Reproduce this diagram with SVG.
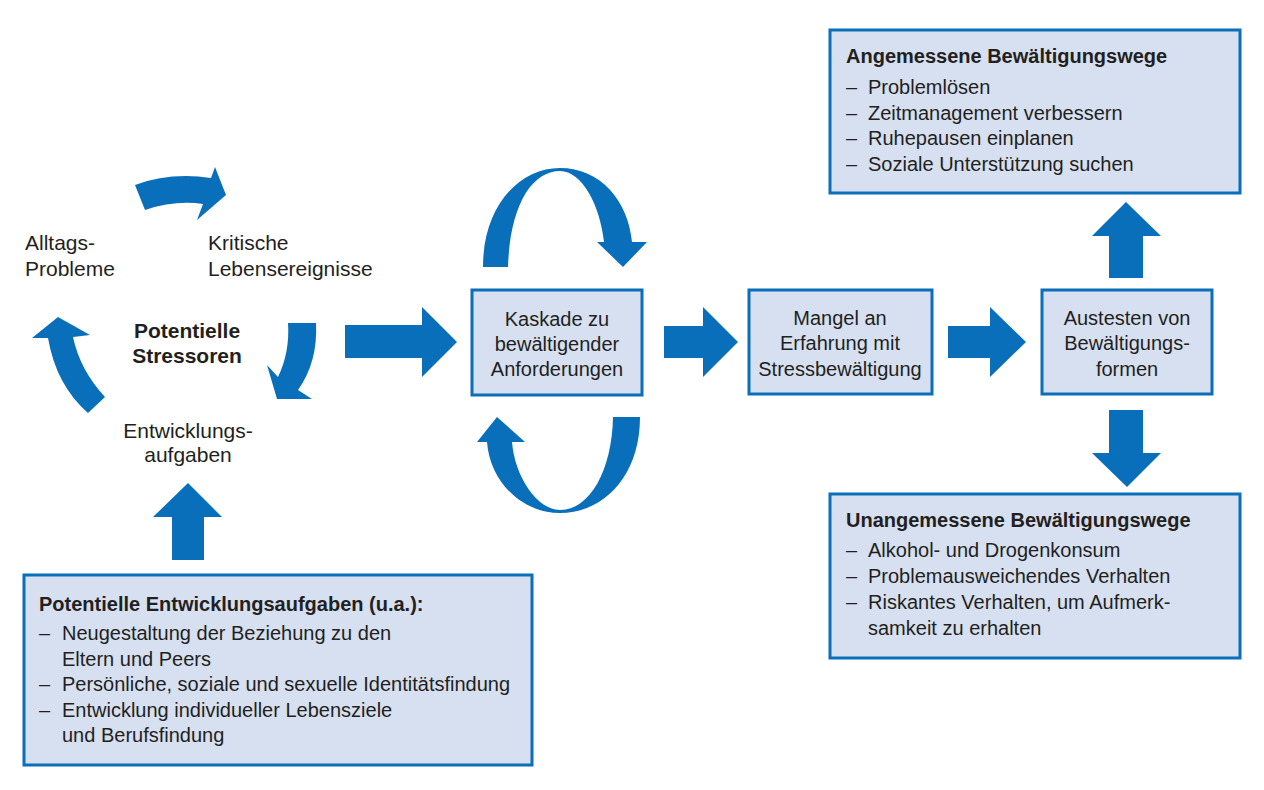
<svg xmlns="http://www.w3.org/2000/svg" width="1264" height="790" viewBox="0 0 1264 790">
<style>
.box{fill:#d6e0f1;stroke:#0a6fba;stroke-width:3}
.arr{fill:#0a6fba}
.t{font-family:"Liberation Sans",Arial,sans-serif;font-size:21px;fill:#231f20}
.b{font-family:"Liberation Sans",Arial,sans-serif;font-size:20px;fill:#231f20}
.bt{font-weight:bold}
.c{text-anchor:middle}
</style>
<rect width="1264" height="790" fill="#ffffff"/>
<g id="connectors">
<path class="arr" d="M135,185 Q170,172 211,178 L215,167 L226,195 L197,220 L203,204 Q175,200 145,210 Z"/>
<path class="arr" d="M288,323 L316,323 Q318,362 298,390 L312,399 L277,399 L267,365 L278,377 Q290,352 288,323 Z"/>
<path class="arr" d="M88,413 Q56,385 48,338 L32,338 L58,317 L90,335 L73,337 Q80,370 105,397 Z"/>
<path class="arr" d="M483,267 C483,205 520,168 560,168 C600,168 628,200 632,242 L647,242 L623,267 L597,242 L604,242 C600,205 582,171 560,171 C532,171 510,205 508,267 Z"/>
<path class="arr" d="M640,417 C640,478 602,513 560,513 C522,513 490,482 487,442 L477,442 L497,417 L525,442 L512,442 C515,478 538,510 560,510 C590,510 612,470 613,417 Z"/>
<path class="arr" d="M345,325 L422,325 L422,307 L457,342 L422,377 L422,358 L345,358 Z"/>
<path class="arr" d="M664,326 L703,326 L703,307 L738,342 L703,377 L703,358 L664,358 Z"/>
<path class="arr" d="M948,326 L990,326 L990,307 L1026,342 L990,377 L990,358 L948,358 Z"/>
<path class="arr" d="M1109,278 L1109,236 L1092,236 L1126,202 L1161,236 L1143,236 L1143,278 Z"/>
<path class="arr" d="M1109,410 L1143,410 L1143,453 L1161,453 L1127,487 L1092,453 L1109,453 Z"/>
<path class="arr" d="M172,560 L172,517 L153,517 L188,483 L222,517 L204,517 L204,560 Z"/>
</g>
<g id="stressors">
<text class="t" x="25" y="250">Alltags-</text>
<text class="t" x="25" y="276">Probleme</text>
<text class="t" x="208" y="250">Kritische</text>
<text class="t" x="208" y="276">Lebensereignisse</text>
<text class="t bt c" x="187" y="338">Potentielle</text>
<text class="t bt c" x="187" y="363">Stressoren</text>
<text class="t c" x="188" y="438">Entwicklungs-</text>
<text class="t c" x="188" y="462">aufgaben</text>
</g>
<g id="angemessen">
<rect class="box" x="830" y="30" width="410" height="163"/>
<text class="b bt" x="846" y="63">Angemessene Bewältigungswege</text>
<text class="b" x="846" y="94">–</text><text class="b" x="868" y="94">Problemlösen</text>
<text class="b" x="846" y="120">–</text><text class="b" x="868" y="120">Zeitmanagement verbessern</text>
<text class="b" x="846" y="145">–</text><text class="b" x="868" y="145">Ruhepausen einplanen</text>
<text class="b" x="846" y="171">–</text><text class="b" x="868" y="171">Soziale Unterstützung suchen</text>
</g>
<g id="kaskade">
<rect class="box" x="472" y="290" width="170" height="105"/>
<text class="b c" x="557" y="326">Kaskade zu</text>
<text class="b c" x="557" y="351">bewältigender</text>
<text class="b c" x="557" y="376">Anforderungen</text>
</g>
<g id="mangel">
<rect class="box" x="749" y="290" width="183" height="104"/>
<text class="b c" x="840" y="325">Mangel an</text>
<text class="b c" x="840" y="350">Erfahrung mit</text>
<text class="b c" x="840" y="376">Stressbewältigung</text>
</g>
<g id="austesten">
<rect class="box" x="1042" y="290" width="170" height="104"/>
<text class="b c" x="1127" y="325">Austesten von</text>
<text class="b c" x="1127" y="350">Bewältigungs-</text>
<text class="b c" x="1127" y="376">formen</text>
</g>
<g id="unangemessen">
<rect class="box" x="830" y="494" width="410" height="164"/>
<text class="b bt" x="846" y="527">Unangemessene Bewältigungswege</text>
<text class="b" x="846" y="557">–</text><text class="b" x="868" y="557">Alkohol- und Drogenkonsum</text>
<text class="b" x="846" y="583">–</text><text class="b" x="868" y="583">Problemausweichendes Verhalten</text>
<text class="b" x="846" y="609">–</text><text class="b" x="868" y="609">Riskantes Verhalten, um Aufmerk-</text>
<text class="b" x="868" y="635">samkeit zu erhalten</text>
</g>
<g id="entwicklungsaufgaben">
<rect class="box" x="24" y="575" width="508" height="190"/>
<text class="b bt" x="39" y="611">Potentielle Entwicklungsaufgaben (u.a.):</text>
<text class="b" x="39" y="640">–</text><text class="b" x="62" y="640">Neugestaltung der Beziehung zu den</text>
<text class="b" x="62" y="666">Eltern und Peers</text>
<text class="b" x="39" y="691">–</text><text class="b" x="62" y="691">Persönliche, soziale und sexuelle Identitätsfindung</text>
<text class="b" x="39" y="717">–</text><text class="b" x="62" y="717">Entwicklung individueller Lebensziele</text>
<text class="b" x="62" y="742">und Berufsfindung</text>
</g>
</svg>
